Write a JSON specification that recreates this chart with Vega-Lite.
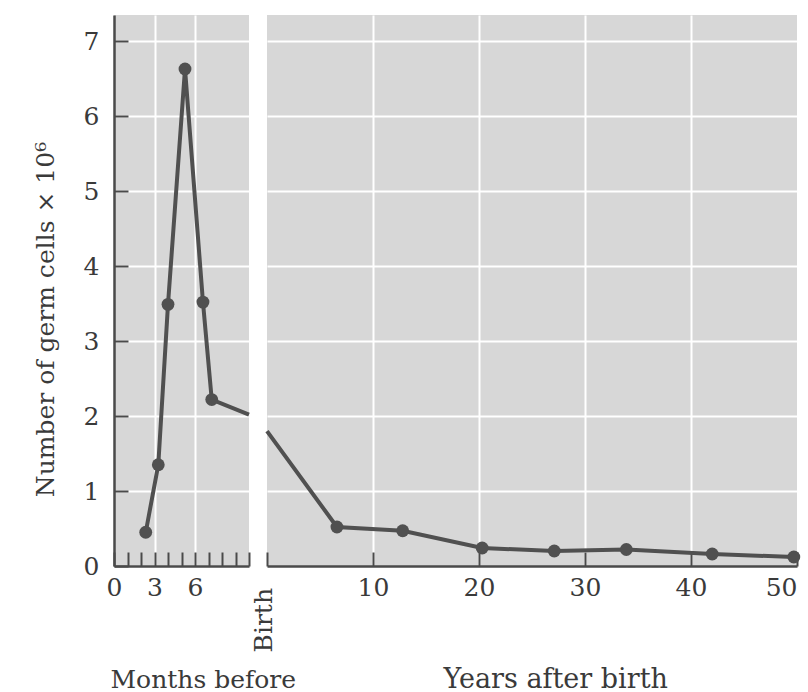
{
  "$schema": "https://vega.github.io/schema/vega-lite/v6.json",
  "padding": {"left": 33, "top": 15, "right": 0, "bottom": 0},
  "background": "white",
  "bounds": "flush",
  "spacing": 18,
  "config": {
    "view": {"fill": "#d7d7d7", "stroke": null},
    "font": "DejaVu Serif",
    "axis": {
      "domainColor": "#4a4a4a", "domainWidth": 2.5,
      "tickColor": "#4a4a4a", "tickWidth": 2, "tickSize": -14,
      "labelFont": "DejaVu Serif", "labelFontSize": 25, "labelColor": "#3a3a3a",
      "labelOverlap": false,
      "titleFont": "DejaVu Serif", "titleFontSize": 25, "titleFontWeight": "normal", "titleColor": "#3a3a3a",
      "gridColor": "white", "gridWidth": 2, "gridOpacity": 1
    }
  },
  "datasets": {
    "before": [
      {"month": 2.35, "cells": 0.45, "pt": true},
      {"month": 3.28, "cells": 1.35, "pt": true},
      {"month": 4.0, "cells": 3.49, "pt": true},
      {"month": 5.26, "cells": 6.63, "pt": true},
      {"month": 6.59, "cells": 3.52, "pt": true},
      {"month": 7.24, "cells": 2.22, "pt": true},
      {"month": 10, "cells": 2.02, "pt": false}
    ],
    "after": [
      {"years": 0, "cells": 1.8, "pt": false},
      {"years": 6.6, "cells": 0.52, "pt": true},
      {"years": 12.8, "cells": 0.47, "pt": true},
      {"years": 20.3, "cells": 0.24, "pt": true},
      {"years": 27.1, "cells": 0.2, "pt": true},
      {"years": 33.9, "cells": 0.22, "pt": true},
      {"years": 42.0, "cells": 0.16, "pt": true},
      {"years": 49.7, "cells": 0.12, "pt": true}
    ],
    "marker": [
      {"years": 0, "cells": 0, "label": "Birth"}
    ]
  },
  "hconcat": [
    {
      "width": 135,
      "height": 551,
      "data": {"name": "before"},
      "encoding": {
        "x": {
          "field": "month", "type": "quantitative",
          "scale": {"domain": [0, 10], "nice": false, "zero": false},
          "axis": {
            "values": [0, 1, 2, 3, 4, 5, 6, 7, 8, 9, 10],
            "labelExpr": "(datum.value % 3 === 0 && datum.value < 9) ? datum.label : ''",
            "labelFlush": false,
            "labelPadding": 23,
            "gridOpacity": {"condition": {"test": "datum.value === 3 || datum.value === 6", "value": 1}, "value": 0},
            "title": "Months before",
            "titleAnchor": "start", "titleAlign": "left",
            "titleX": -4, "titleY": 121, "titleBaseline": "alphabetic"
          }
        },
        "y": {
          "field": "cells", "type": "quantitative",
          "scale": {"domain": [0, 7.35], "nice": false},
          "axis": {
            "values": [0, 1, 2, 3, 4, 5, 6, 7],
            "labelPadding": 29,
            "title": "Number of germ cells × 10⁶",
            "titleAngle": -90, "titleAlign": "center", "titleBaseline": "middle",
            "titleX": -69, "titleY": 304
          }
        }
      },
      "layer": [
        {"mark": {"type": "line", "color": "#505050", "strokeWidth": 4}},
        {"transform": [{"filter": "datum.pt"}], "mark": {"type": "circle", "size": 165, "color": "#505050", "opacity": 1}}
      ]
    },
    {
      "width": 530,
      "height": 551,
      "encoding": {
        "x": {
          "field": "years", "type": "quantitative",
          "scale": {"domain": [0, 50], "nice": false, "zero": false},
          "axis": {
            "values": [0, 10, 20, 30, 40, 50],
            "labelExpr": "datum.value > 0 ? datum.label : ''",
            "labelFlush": true,
            "labelPadding": 23,
            "gridOpacity": {"condition": {"test": "datum.value > 0 && datum.value < 50", "value": 1}, "value": 0},
            "title": "Years after birth",
            "titleFontSize": 27,
            "titleAnchor": "start", "titleAlign": "left",
            "titleX": 176, "titleY": 121, "titleBaseline": "alphabetic"
          }
        },
        "y": {
          "field": "cells", "type": "quantitative",
          "scale": {"domain": [0, 7.35], "nice": false},
          "axis": {
            "values": [1, 2, 3, 4, 5, 6, 7],
            "labels": false, "ticks": false, "domain": false, "title": null, "grid": true
          }
        }
      },
      "layer": [
        {"data": {"name": "after"}, "mark": {"type": "line", "color": "#505050", "strokeWidth": 4}},
        {"data": {"name": "after"}, "transform": [{"filter": "datum.pt"}], "mark": {"type": "circle", "size": 165, "color": "#505050", "opacity": 1}},
        {
          "data": {"name": "marker"},
          "mark": {"type": "text", "angle": 270, "align": "right", "baseline": "middle", "dx": -22, "dy": -3, "fontSize": 25, "color": "#3a3a3a", "font": "DejaVu Serif"},
          "encoding": {"text": {"field": "label", "type": "nominal"}}
        }
      ]
    }
  ]
}
